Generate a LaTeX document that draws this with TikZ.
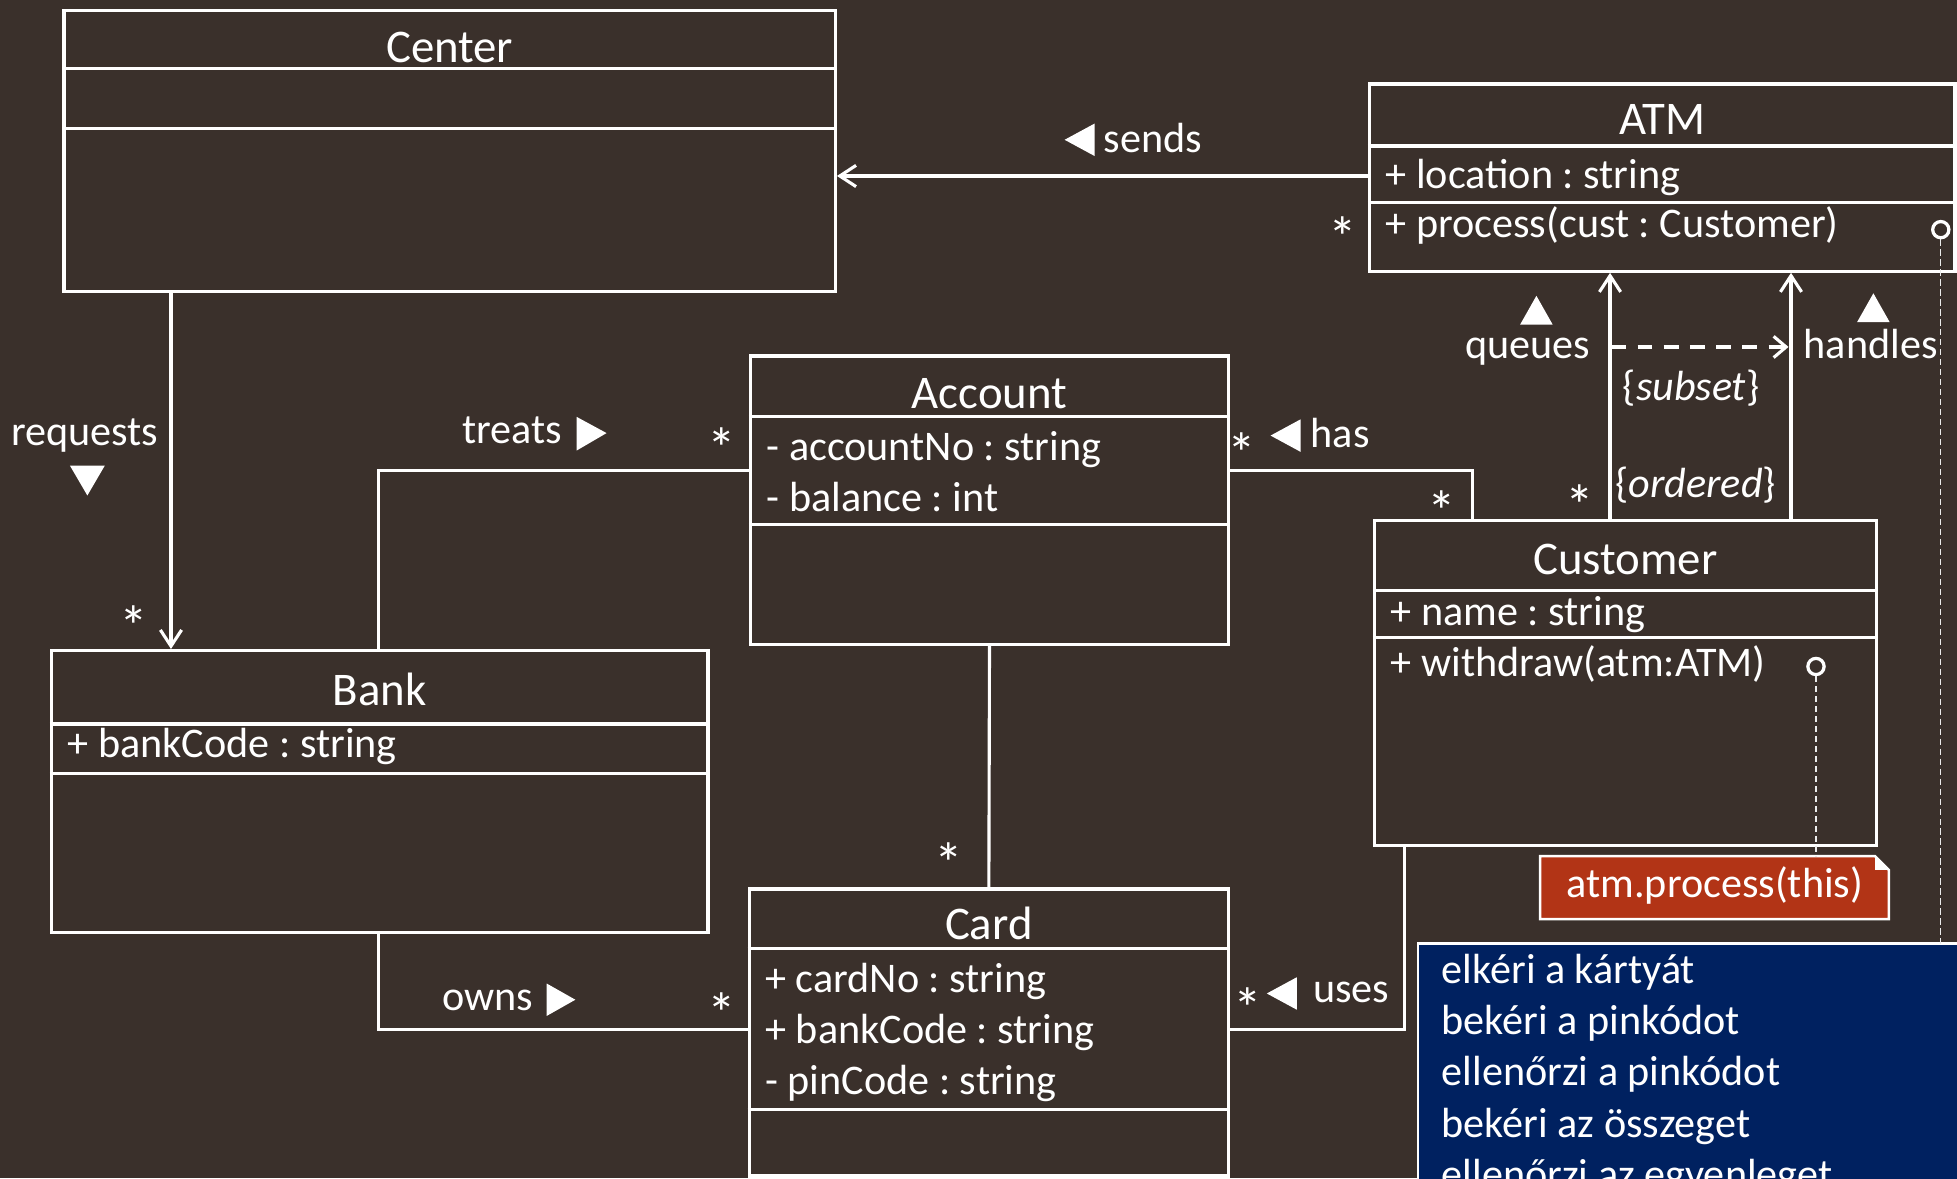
\documentclass[tikz,border=0pt]{standalone}
\usepackage{fontspec}
\setmainfont{Carlito}
\frenchspacing
\usetikzlibrary{arrows.meta,calc}
\definecolor{bg}{RGB}{58,48,43}
\definecolor{notered}{RGB}{178,52,22}
\definecolor{noteblue}{RGB}{0,33,96}
\begin{document}
\begin{tikzpicture}[x=1pt,y=-1pt,
  classbox/.style={draw=white, line width=2.6pt, fill=bg, inner sep=0pt, anchor=north west},
  divider/.style={draw=white, line width=2.6pt},
  assoc/.style={draw=white, line width=2.5pt},
  nav/.style={assoc, -{Straight Barb[length=13pt,width=17pt]}},
  txt/.style={text=white, inner sep=0pt, font=\fontsize{33.8}{40}\selectfont},
  title/.style={txt, anchor=base, font=\fontsize{37.5}{44}\selectfont},
  member/.style={txt, anchor=base west},
  lbl/.style={txt, anchor=base west},
  mult/.style={txt, anchor=base, yshift=-24pt, font=\fontsize{46}{50}\selectfont},
  dirmark/.style={fill=white},
  port/.style={circle, draw=white, line width=2.6pt, fill=bg, minimum size=13pt, inner sep=0pt},
  tether/.style={draw=white!85!gray, line width=1pt, dash pattern=on 5pt off 3pt},
  notebox/.style={anchor=north west, inner sep=0pt}
]
\useasboundingbox (0,0) rectangle (1568,944);
\clip (0,0) rectangle (1568,944);
\fill[bg] (0,0) rectangle (1568,944);

% ---------- classes ----------
\node[classbox, minimum width=618pt, minimum height=225pt] (center) at (50,7) {};
\draw[divider] (center.west |- 0,55) -- (center.east |- 0,55);
\draw[divider] (center.west |- 0,103) -- (center.east |- 0,103);
\node[title] (centerT) at (center.north |- 0,50) {Center};

\node[classbox, minimum width=469pt, minimum height=150pt] (atm) at (1096,66) {};
\draw[divider] (atm.west |- 0,117) -- (atm.east |- 0,117);
\draw[divider] (atm.west |- 0,162) -- (atm.east |- 0,162);
\node[title] (atmT) at (atm.north |- 0,108) {ATM};
\node[member] (atmA) at (1110,151) {+ location : string};
\node[member] (atmO) at (1110,190) {+ process(cust : Customer)};

\node[classbox, minimum width=383pt, minimum height=231pt] (account) at (600,284) {};
\draw[divider] (account.west |- 0,334) -- (account.east |- 0,334);
\draw[divider] (account.west |- 0,420) -- (account.east |- 0,420);
\node[title] (accountT) at (account.north |- 0,327) {Account};
\node[member] (accountA) at (614,369) {- accountNo : string};
\node[member] (accountB) at (614,410) {- balance : int};

\node[classbox, minimum width=402pt, minimum height=260pt] (customer) at (1100,416) {};
\draw[divider] (customer.west |- 0,473) -- (customer.east |- 0,473);
\draw[divider] (customer.west |- 0,511) -- (customer.east |- 0,511);
\node[title] (customerT) at (customer.north |- 0,460) {Customer};
\node[member] (customerA) at (1114,501) {+ name : string};
\node[member] (customerO) at (1114,542) {+ withdraw(atm:ATM)};

\node[classbox, minimum width=526pt, minimum height=226pt] (bank) at (40,520) {};
\draw[divider] (bank.west |- 0,580) -- (bank.east |- 0,580);
\draw[divider] (bank.west |- 0,620) -- (bank.east |- 0,620);
\node[title] (bankT) at (bank.north |- 0,565) {Bank};
\node[member] (bankA) at (54,607) {+ bankCode : string};

\node[classbox, minimum width=384pt, minimum height=230pt] (card) at (599,711) {};
\draw[divider] (card.west |- 0,760) -- (card.east |- 0,760);
\draw[divider] (card.west |- 0,889) -- (card.east |- 0,889);
\node[title] (cardT) at (card.north |- 0,753) {Card};
\node[member] (cardA) at (613,795.5) {+ cardNo : string};
\node[member] (cardB) at (613,836) {+ bankCode : string};
\node[member] (cardC) at (613,877) {- pinCode : string};

% ---------- associations ----------
\draw[nav] (atm.west |- 0,141) -- (center.east |- 0,141);
\fill[dirmark] (853,112) -- (877,99) -- (877,125) -- cycle;
\node[lbl] (sendsL) at (884,122) {sends};
\node[mult] (sendsM) at (1076,182) {*};

\draw[nav] (center.south -| 137,0) -- (bank.north -| 137,0);
\node[txt, anchor=base] (requestsL) at (68,357) {requests};
\fill[dirmark] (56,373) -- (84,373) -- (70,397) -- cycle;
\node[mult] (requestsM) at (107,494) {*};

\draw[assoc] (bank.north -| 303,0) |- (account.west |- 0,377);
\node[lbl] (treatsL) at (370,355) {treats};
\fill[dirmark] (462,334) -- (486,347) -- (462,361) -- cycle;
\node[mult] (treatsM) at (578,351) {*};

\draw[assoc] (account.east |- 0,377) -| (customer.north -| 1180,0);
\node[mult] (hasM1) at (995,355) {*};
\fill[dirmark] (1018,349) -- (1042,336) -- (1042,362) -- cycle;
\node[lbl] (hasL) at (1050,358.5) {has};
\node[mult] (hasM2) at (1155,402) {*};

\draw[assoc] (account.south) -- (card.south |- card.north);
\node[mult] (cardM) at (760,684) {*};

\draw[assoc] (bank.south -| 303,0) |- (card.west |- 0,825);
\node[lbl] (ownsL) at (354,810) {owns};
\fill[dirmark] (438,788) -- (461,801) -- (438,814) -- cycle;
\node[mult] (ownsM) at (578,804) {*};

\draw[assoc] (customer.south -| 1125,0) |- (card.east |- 0,825);
\node[mult] (usesM) at (1000,800) {*};
\fill[dirmark] (1015,796) -- (1039,783) -- (1039,809) -- cycle;
\node[lbl] (usesL) at (1052,803.5) {uses};

\draw[nav] (customer.north -| 1290,0) -- (atm.south -| 1290,0);
\draw[nav] (customer.north -| 1435,0) -- (atm.south -| 1435,0);
\fill[dirmark] (1231,237) -- (1244,260) -- (1218,260) -- cycle;
\node[lbl] (queuesL) at (1174,287.5) {queues};
\fill[dirmark] (1501,235) -- (1514,258) -- (1488,258) -- cycle;
\node[lbl] (handlesL) at (1445,287.5) {handles};
\node[mult] (queuesM) at (1266,397) {*};
\node[lbl] (orderedL) at (1294,399) {\{\textit{ordered}\}};

\coordinate (subsetA) at (1291,278);
\coordinate (subsetB) at (1433,278);
\draw[assoc, dash pattern=on 12pt off 9pt, -{Straight Barb[length=10pt,width=17pt]}] (subsetA) -- (subsetB);
\node[lbl] (subsetL) at (1300,320.5) {\{\textit{subset}\}};

% ---------- notes ----------
\node[port] (portatm) at (1555,184) {};
\node[port] (portcust) at (1455,534) {};

\node[notebox, minimum width=279pt, minimum height=50pt] (rednote) at (1234,686) {};
\filldraw[fill=notered, draw=white, line width=2pt]
  (rednote.north west) -- ($(rednote.north east)+(-11,0)$) -- ($(rednote.north east)+(0,11)$)
  -- (rednote.south east) -- (rednote.south west) -- cycle;
\fill[white] ($(rednote.north east)+(-11,0)$) -- ($(rednote.north east)+(0,11)$) -- ($(rednote.north east)+(-11,11)$) -- cycle;
\node[lbl] (redtext) at (1255,719) {atm.process(this)};

\node[notebox, minimum width=460pt, minimum height=230pt] (bluenote) at (1136,756) {};
\filldraw[fill=noteblue, draw=white, line width=2pt] (bluenote.north west) rectangle (bluenote.south east);
\node[lbl] (blue1) at (1155,788) {elkéri a kártyát};
\node[lbl] (blue2) at (1155,829) {bekéri a pinkódot};
\node[lbl] (blue3) at (1155,870) {ellenőrzi a pinkódot};
\node[lbl] (blue4) at (1155,911) {bekéri az összeget};
\node[lbl] (blue5) at (1155,952) {ellenőrzi az egyenleget};

\draw[tether] (portatm.south) -- (portatm.south |- bluenote.north);
\draw[tether] (portcust.south) -- (portcust.south |- rednote.north);
\end{tikzpicture}
\end{document}
